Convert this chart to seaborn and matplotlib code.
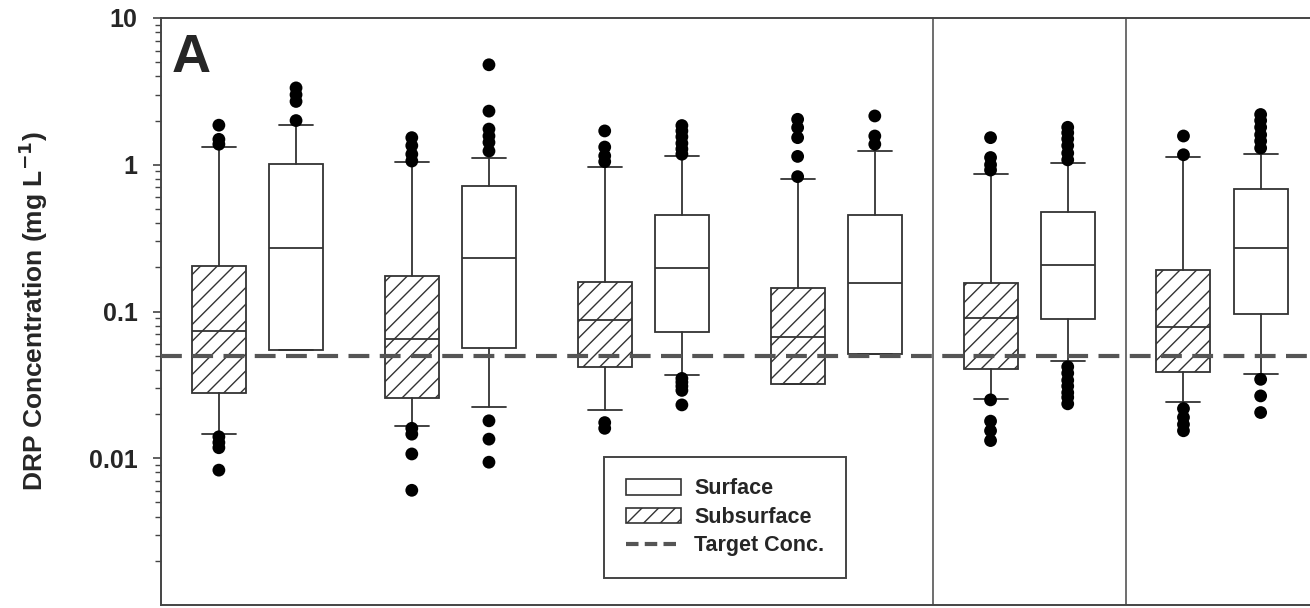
import numpy as np
import pandas as pd
import matplotlib
matplotlib.use("Agg")
import matplotlib.pyplot as plt
import seaborn as sns
from matplotlib.patches import Patch
from matplotlib.lines import Line2D

# Estilo base
sns.set_theme(style="ticks")
plt.rcParams['font.family'] = ['Liberation Sans', 'DejaVu Sans']
plt.rcParams['hatch.linewidth'] = 1.0
plt.rcParams['hatch.color'] = '#333333'

# Datos (resumen de cada caja, mg/L)
groups = [0, 1, 2, 3, 4, 5]

sub_whishi = [1.32, 1.04, 0.97, 0.80, 0.865, 1.13]
sub_q3 = [0.205, 0.175, 0.160, 0.144, 0.157, 0.191]
sub_med = [0.0733, 0.065, 0.087, 0.067, 0.091, 0.079]
sub_q1 = [0.0277, 0.0256, 0.0418, 0.0322, 0.0407, 0.0387]
sub_whislo = [0.0146, 0.0167, 0.0214, 0.0322, 0.0255, 0.0243]
sub_fliers = [
    [1.86, 1.49, 1.38, 0.0140, 0.0128, 0.0118, 0.0083],
    [1.53, 1.35, 1.18, 1.06, 0.0160, 0.0146, 0.0107, 0.00605],
    [1.70, 1.32, 1.15, 1.05, 0.0175, 0.0160],
    [2.04, 1.79, 1.53, 1.14, 0.83],
    [1.53, 1.12, 1.00, 0.92, 0.0250, 0.0179, 0.0154, 0.0132],
    [1.57, 1.17, 0.0218, 0.0190, 0.0170, 0.0154],
]

surf_whishi = [1.86, 1.12, 1.14, 1.24, 1.02, 1.18]
surf_q3 = [1.01, 0.714, 0.458, 0.452, 0.476, 0.684]
surf_med = [0.269, 0.232, 0.199, 0.157, 0.207, 0.272]
surf_q1 = [0.0545, 0.0565, 0.0726, 0.051, 0.0889, 0.0964]
surf_whislo = [0.0545, 0.0224, 0.0369, 0.051, 0.0459, 0.0373]
surf_fliers = [
    [3.34, 3.00, 2.70, 2.00],
    [4.80, 2.32, 1.75, 1.57, 1.42, 1.24, 0.018, 0.0135, 0.0094],
    [1.85, 1.70, 1.55, 1.40, 1.28, 1.18, 0.035, 0.033, 0.031, 0.029, 0.0231],
    [2.15, 1.57, 1.38],
    [1.80, 1.65, 1.50, 1.35, 1.20, 1.08, 0.042, 0.038, 0.034, 0.031, 0.028, 0.026, 0.0235],
    [2.20, 2.00, 1.80, 1.60, 1.45, 1.30, 0.0345, 0.0266, 0.0205],
]

target_conc = 0.05
separators = [3.5, 4.5]

edge = '#333333'
offset = 0.2
box_w = 0.28


def make_stats(whislo, q1, med, q3, whishi):
    return [dict(whislo=a, q1=b, med=c, q3=d, whishi=e, fliers=[])
            for a, b, c, d, e in zip(whislo, q1, med, q3, whishi)]


fig = plt.figure(figsize=(13.1, 6.08), dpi=100)
ax = fig.add_axes([0.1229, 0.0049, 0.8836, 0.9655])

common = dict(widths=box_w, capwidths=0.176, patch_artist=True, showfliers=False,
              medianprops=dict(color=edge, linewidth=1.3),
              whiskerprops=dict(color=edge, linewidth=1.3),
              capprops=dict(color=edge, linewidth=1.3))

sub_pos = [g - offset for g in groups]
surf_pos = [g + offset for g in groups]

ax.bxp(make_stats(sub_whislo, sub_q1, sub_med, sub_q3, sub_whishi), positions=sub_pos,
       boxprops=dict(facecolor='white', edgecolor=edge, linewidth=1.3, hatch='//'), **common)
ax.bxp(make_stats(surf_whislo, surf_q1, surf_med, surf_q3, surf_whishi), positions=surf_pos,
       boxprops=dict(facecolor='white', edgecolor=edge, linewidth=1.3), **common)

# Valores atipicos
rows = []
for p, fl in zip(sub_pos, sub_fliers):
    rows += [(p, v) for v in fl]
for p, fl in zip(surf_pos, surf_fliers):
    rows += [(p, v) for v in fl]
fliers_df = pd.DataFrame(rows, columns=['pos', 'value'])
sns.scatterplot(data=fliers_df, x='pos', y='value', color='black', s=85,
                edgecolor='none', zorder=4, ax=ax, legend=False)

# Linea objetivo y separadores
ax.axhline(target_conc, color='#555555', linewidth=3, dashes=(5, 2.5), zorder=5)
for s in separators:
    ax.axvline(s, color='#555555', linewidth=1.2, zorder=1)

ax.set_yscale('log')
ax.set_ylim(0.001, 10)
ax.set_xlim(-0.5, 5.5)
ax.set_xticks([])
ax.set_xlabel('')
ax.set_yticks([0.01, 0.1, 1, 10])
ax.set_yticklabels(['0.01', '0.1', '1', '10'], fontsize=18, fontweight='bold')
ax.tick_params(axis='y', which='major', direction='out', length=6, width=1.2, color='#444444', pad=11)
ax.tick_params(axis='y', which='minor', direction='out', length=4, width=1.0, color='#444444')
ax.set_ylabel('DRP Concentration (mg L$^{\\mathbf{-1}}$)', fontsize=19, fontweight='bold', labelpad=28)

for sp in ax.spines.values():
    sp.set_color('#444444')
    sp.set_linewidth(1.4)

ax.text(0.009, 0.974, 'A', transform=ax.transAxes, fontsize=39, fontweight='bold',
        va='top', ha='left')

handles = [
    Patch(facecolor='white', edgecolor=edge, linewidth=1.2, label='Surface'),
    Patch(facecolor='white', edgecolor=edge, linewidth=1.2, hatch='//', label='Subsurface'),
    Line2D([0], [0], color='#555555', linewidth=3, dashes=(3, 1.5), label='Target Conc.'),
]
leg = ax.legend(handles=handles, loc='lower left', bbox_to_anchor=(0.3827, 0.046),
                frameon=True, fancybox=False, edgecolor='#444444', framealpha=1,
                prop=dict(family=['Liberation Sans', 'DejaVu Sans'], weight='bold', size=15.5),
                handlelength=2.6, handleheight=0.75, labelspacing=0.35,
                borderpad=1.0, handletextpad=0.6, borderaxespad=0)
leg.get_frame().set_linewidth(1.4)

fig.savefig('out.png', dpi=100)
